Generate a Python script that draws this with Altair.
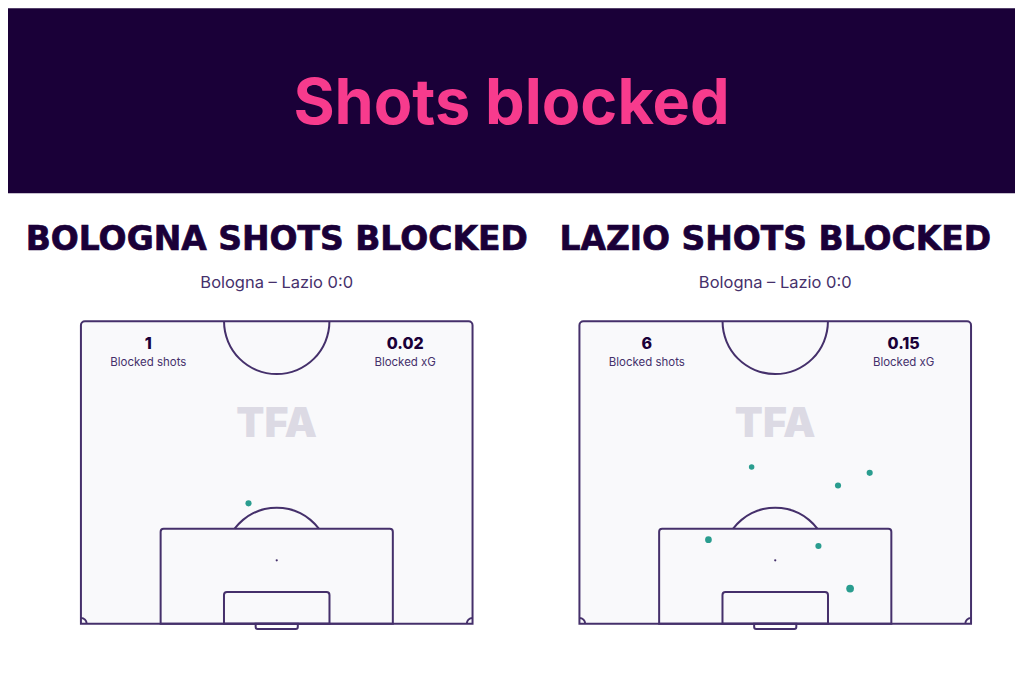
import math
import altair as alt
import pandas as pd

# ---------------- data ----------------
main_title = "Shots blocked"
panel_titles = ["BOLOGNA SHOTS BLOCKED", "LAZIO SHOTS BLOCKED"]
match_label = "Bologna – Lazio 0:0"
blocked_shots = ["1", "6"]
blocked_xg = ["0.02", "0.15"]
stat_labels = ["Blocked shots", "Blocked xG"]
watermark = "TFA"

# shot locations: x across pitch (m, 0-68), y distance from goal line (m)
bologna_x = [29.1]
bologna_y = [20.9]
bologna_xg = [0.02]
lazio_x = [29.9, 50.4, 44.9, 22.4, 41.5, 47.0]
lazio_y = [27.2, 26.2, 24.0, 14.6, 13.5, 6.1]
lazio_xg = [0.01, 0.02, 0.02, 0.03, 0.02, 0.05]

# pitch geometry (metres)
PITCH_W = 68.0
HALF_L = 52.5
BOX_W, BOX_D = 40.32, 16.5
SIX_W, SIX_D = 18.32, 5.5
GOAL_W, GOAL_D = 7.32, 0.9
SPOT = 11.0
CIRCLE_R = 9.15
CORNER_R = 1.0

# ---------------- style ----------------
BAND = "#1a0038"
PINK = "#f73b8d"
DARK = "#1a0038"
LINE = "#45306b"
PITCH_FILL = "#f9f9fb"
DOT = "#2a9d8f"
WM = "#dcdae4"
TITLE_FONT = "Inter"
PANEL_FONT = "DejaVu Sans"
TEXT_FONT = "Inter"

TOTAL_W = 1008
HEADER_H = 185
PANEL_H = 466
K = 392.0 / PITCH_W          # px per metre
GOAL_PX = 35                 # goal line distance from panel bottom (px)
LW = 2.0


def panel(idx, width, left_px, xs_list, ys_list, xg_list):
    xmin = -left_px / K
    ymin = -GOAL_PX / K
    xs = alt.Scale(domain=[xmin, xmin + width / K], nice=False, zero=False)
    ys = alt.Scale(domain=[ymin, ymin + PANEL_H / K], nice=False, zero=False)

    def X(f):
        return alt.X(f, type="quantitative", scale=xs, axis=None)

    def Y(f):
        return alt.Y(f, type="quantitative", scale=ys, axis=None)

    def rect_layer(x1, x2, y1, y2, **kw):
        df = pd.DataFrame({"x": [x1], "x2": [x2], "y": [y1], "y2": [y2]})
        return alt.Chart(df).mark_rect(stroke=LINE, strokeWidth=LW, **kw).encode(
            x=X("x"), x2="x2", y=Y("y"), y2="y2"
        )

    cx = PITCH_W / 2
    outer = rect_layer(0, PITCH_W, 0, HALF_L, fill=PITCH_FILL,
                       cornerRadiusTopLeft=4, cornerRadiusTopRight=4)
    box = rect_layer(cx - BOX_W / 2, cx + BOX_W / 2, 0, BOX_D, fillOpacity=0,
                     cornerRadiusTopLeft=3, cornerRadiusTopRight=3)
    six = rect_layer(cx - SIX_W / 2, cx + SIX_W / 2, 0, SIX_D, fillOpacity=0,
                     cornerRadiusTopLeft=3, cornerRadiusTopRight=3)
    goal = rect_layer(cx - GOAL_W / 2, cx + GOAL_W / 2, -GOAL_D, 0, fillOpacity=0,
                      cornerRadiusBottomLeft=2, cornerRadiusBottomRight=2)

    def arc_layer(ax, ay, r_m, t1, t2):
        df = pd.DataFrame({"x": [ax], "y": [ay]})
        r = r_m * K
        return alt.Chart(df).mark_arc(
            color=LINE, radius=r + LW / 2, radius2=r - LW / 2, theta=t1, theta2=t2
        ).encode(x=X("x"), y=Y("y"))

    half_ang = math.acos((BOX_D - SPOT) / CIRCLE_R)
    centre = arc_layer(cx, HALF_L, CIRCLE_R, math.pi / 2, 3 * math.pi / 2)
    pen_arc = arc_layer(cx, SPOT, CIRCLE_R, 2 * math.pi - half_ang, 2 * math.pi + half_ang)
    c_left = arc_layer(0, 0, CORNER_R, 0, math.pi / 2)
    c_right = arc_layer(PITCH_W, 0, CORNER_R, 3 * math.pi / 2, 2 * math.pi)

    spot = alt.Chart(pd.DataFrame({"x": [cx], "y": [SPOT]})).mark_circle(
        color=LINE, size=5, opacity=1
    ).encode(x=X("x"), y=Y("y"))

    # texts
    tdf = pd.DataFrame({"x": [cx], "t": [panel_titles[idx]], "s": [match_label],
                        "w": [watermark]})
    title = alt.Chart(tdf).mark_text(
        font=PANEL_FONT, fontWeight="bold", fontSize=33, color=DARK, baseline="middle",
        stroke=DARK, strokeWidth=0.7
    ).encode(x=X("x"), y=alt.value(47), text="t:N")
    sub = alt.Chart(tdf).mark_text(
        font=TEXT_FONT, fontSize=16.5, color=LINE, baseline="middle"
    ).encode(x=X("x"), y=alt.value(90), text="s:N")
    wm = alt.Chart(tdf).mark_text(
        font=TEXT_FONT, fontWeight=900, fontSize=41, color=WM, baseline="middle"
    ).encode(x=X("x"), y=alt.value(232), text="w:N")

    sdf = pd.DataFrame({
        "x": [cx - 22.3, cx + 22.3],
        "v": [blocked_shots[idx], blocked_xg[idx]],
        "l": stat_labels,
    })
    nums = alt.Chart(sdf).mark_text(
        font=TEXT_FONT, fontWeight=800, fontSize=16, color=DARK, baseline="middle"
    ).encode(x=X("x"), y=alt.value(151), text="v:N")
    labs = alt.Chart(sdf).mark_text(
        font=TEXT_FONT, fontSize=11.5, color=LINE, baseline="middle"
    ).encode(x=X("x"), y=alt.value(170), text="l:N")

    ddf = pd.DataFrame({"x": xs_list, "y": ys_list, "xg": xg_list})
    dots = alt.Chart(ddf).mark_circle(color=DOT, opacity=1).encode(
        x=X("x"), y=Y("y"),
        size=alt.Size("xg:Q", scale=alt.Scale(domain=[0.01, 0.05], range=[30, 60]),
                      legend=None),
    )

    return alt.layer(
        outer, wm, box, six, goal, centre, pen_arc, c_left, c_right, spot,
        title, sub, nums, labs, dots
    ).properties(width=width, height=PANEL_H)


# header
hdf = pd.DataFrame({"t": [main_title]})
band = alt.Chart(hdf).mark_rect(color=BAND).encode(
    x=alt.value(0), x2=alt.value(TOTAL_W), y=alt.value(0), y2=alt.value(HEADER_H)
)
htitle = alt.Chart(hdf).mark_text(
    font=TITLE_FONT, fontWeight="bold", fontSize=63, color=PINK, baseline="middle"
).encode(x=alt.value(TOTAL_W / 2), y=alt.value(97), text="t:N")
header = alt.layer(band, htitle).properties(width=TOTAL_W, height=HEADER_H)

left = panel(0, 520, 73, bologna_x, bologna_y, bologna_xg)
right = panel(1, 488, 51, lazio_x, lazio_y, lazio_xg)

body = alt.hconcat(left, right, spacing=0).resolve_scale(x="independent", y="independent")

chart = alt.vconcat(header, body, spacing=0).properties(
    padding=0, background="white"
).configure_view(stroke=None)

chart.save("out.html", embed_options={"renderer": "svg", "actions": False})
